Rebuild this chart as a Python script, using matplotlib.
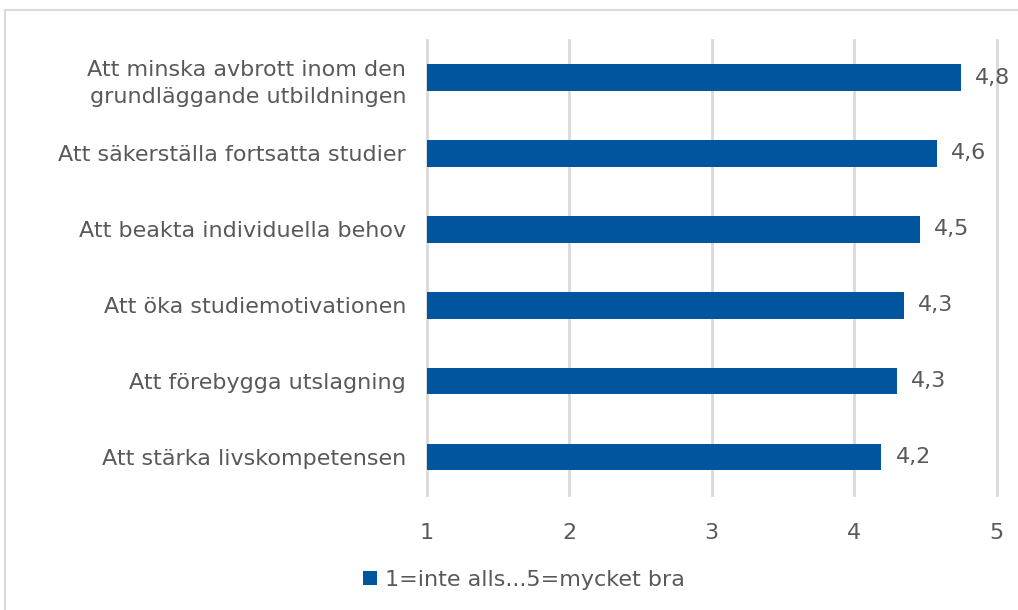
import matplotlib.pyplot as plt
from matplotlib.patches import Rectangle

# Data
categories = [
    "Att minska avbrott inom den\ngrundläggande utbildningen",
    "Att säkerställa fortsatta studier",
    "Att beakta individuella behov",
    "Att öka studiemotivationen",
    "Att förebygga utslagning",
    "Att stärka livskompetensen",
]
values = [4.75, 4.58, 4.46, 4.35, 4.30, 4.19]
value_labels = ["4,8", "4,6", "4,5", "4,3", "4,3", "4,2"]
x_ticks = [1, 2, 3, 4, 5]
series_name = "1=inte alls...5=mycket bra"

bar_color = "#00559F"
text_color = "#595959"
grid_color = "#D9D9D9"
fs = 16

fig = plt.figure(figsize=(10.18, 6.10), dpi=100)
ax = fig.add_axes([0.4194, 0.1885, 0.5596, 0.7465])

y = list(range(len(categories)))[::-1]
bars = ax.barh(y, [v - 1 for v in values], left=1, height=0.35,
               color=bar_color, zorder=3, label=series_name)

for yi, v, lab in zip(y, values, value_labels):
    ax.text(v + 0.1, yi, lab, va="center", ha="left",
            fontsize=fs, color=text_color)

ax.set_xlim(1, 5)
ax.set_ylim(-0.5, len(categories) - 0.5)
ax.set_xticks(x_ticks)
ax.set_xticklabels([str(t) for t in x_ticks])
ax.set_yticks(y)
ax.set_yticklabels(categories, ha="right", linespacing=1.45)
ax.tick_params(axis="y", length=0, pad=15, labelsize=fs, labelcolor=text_color)
ax.tick_params(axis="x", length=0, pad=20, labelsize=fs, labelcolor=text_color)
ax.grid(axis="x", color=grid_color, linewidth=2, zorder=0)
for gl in ax.get_xgridlines():
    gl.set_clip_on(False)
for s in ax.spines.values():
    s.set_visible(False)

leg = fig.legend(handles=[bars], labels=[series_name], loc="center",
                 bbox_to_anchor=(0.515, 0.049), frameon=False,
                 fontsize=fs, handlelength=0.6, handleheight=0.6,
                 handletextpad=0.4)
for t in leg.get_texts():
    t.set_color(text_color)

# outer chart border
fig.patches.append(Rectangle((5 / 1018, -0.05), 1.1, 1 - 10 / 610 + 0.05,
                             transform=fig.transFigure, fill=False,
                             edgecolor="#D9D9D9", linewidth=1.5))

fig.savefig("out.png", dpi=100)
